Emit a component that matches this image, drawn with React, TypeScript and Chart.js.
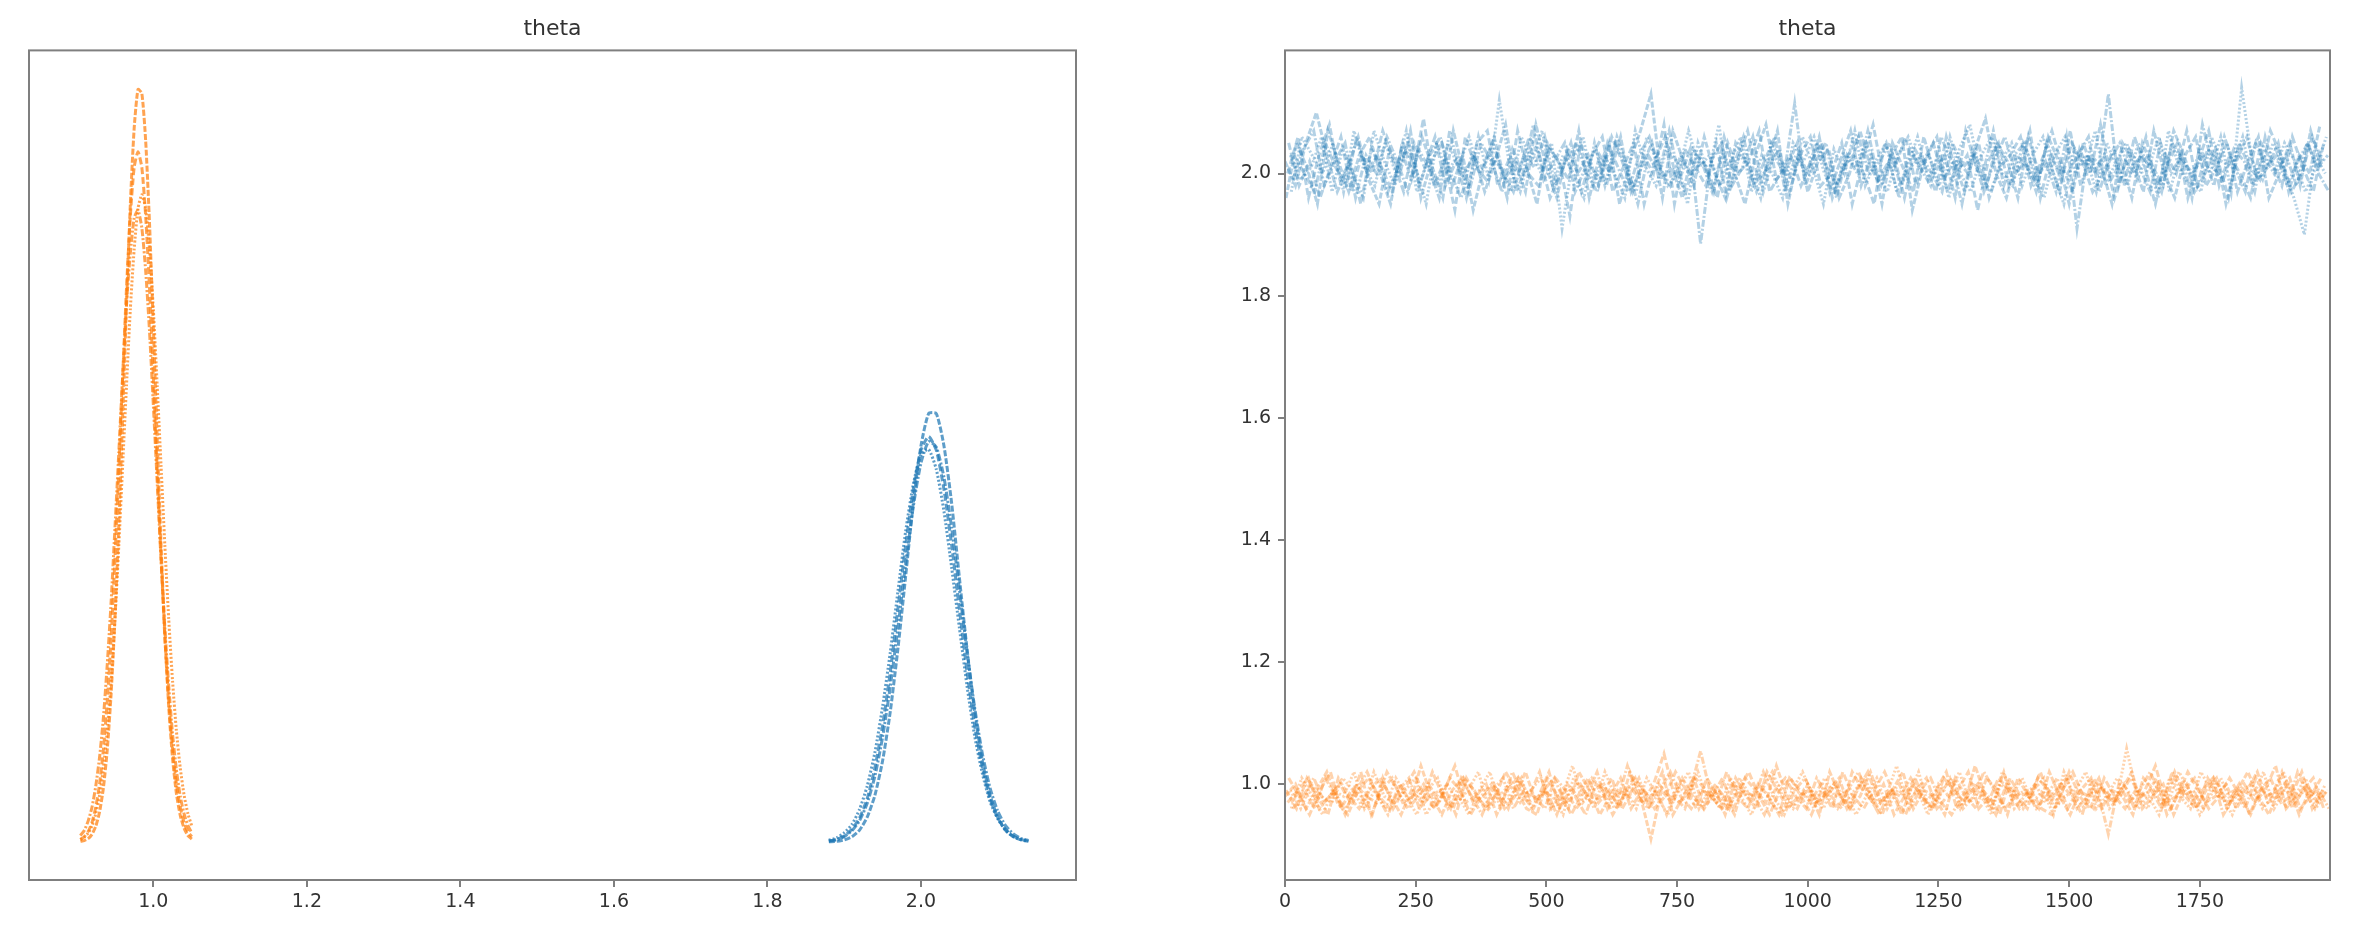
import React, { useEffect, useRef } from "react";
import { Chart, registerables } from "chart.js";

Chart.register(...registerables);

const PANEL_TITLE = "theta";
const BLUE = "31,119,180";
const ORANGE = "255,127,14";

// Left panel (KDE) ticks and ranges
const kdeXTicks = [1.0, 1.2, 1.4, 1.6, 1.8, 2.0];
const kdeXRange = [0.838, 2.202];
const kdeYRange = [-0.97, 20.3];

// Right panel (trace) ticks and ranges
const traceXTicks = [0, 250, 500, 750, 1000, 1250, 1500, 1750];
const traceYTicks = [1.0, 1.2, 1.4, 1.6, 1.8, 2.0];
const traceXRange = [0, 1999];
const traceYRange = [0.843, 2.2016];

// KDE grids
const orangeGrid = [0.905, 0.91, 0.915, 0.92, 0.925, 0.93, 0.935, 0.94, 0.945, 0.95, 0.955, 0.96, 0.965, 0.97, 0.975, 0.98, 0.985, 0.99, 0.995, 1.0, 1.005, 1.01, 1.015, 1.02, 1.025, 1.03, 1.035, 1.04, 1.045, 1.05];
const blueGrid = [1.88, 1.89, 1.9, 1.91, 1.92, 1.93, 1.94, 1.95, 1.96, 1.97, 1.98, 1.99, 2.0, 2.01, 2.02, 2.03, 2.04, 2.05, 2.06, 2.07, 2.08, 2.09, 2.1, 2.11, 2.12, 2.13, 2.14];

// KDE densities per chain
const orangeKde1 = [0.02, 0.04, 0.09, 0.2, 0.41, 0.78, 1.4, 2.38, 3.81, 5.74, 8.15, 10.9, 13.75, 16.35, 18.3, 19.3, 19.2, 17.98, 15.87, 13.2, 10.34, 7.63, 5.3, 3.48, 2.15, 1.25, 0.69, 0.36, 0.17, 0.08];
const orangeKde2 = [0.07, 0.14, 0.27, 0.5, 0.9, 1.5, 2.4, 3.63, 5.24, 7.3, 9.56, 11.9, 14.2, 16.05, 17.3, 17.7, 17.3, 16.05, 14.2, 11.9, 9.56, 7.3, 5.24, 3.63, 2.4, 1.5, 0.9, 0.5, 0.27, 0.14];
const orangeKde3 = [0.065, 0.13, 0.23, 0.42, 0.73, 1.21, 1.91, 2.86, 4.14, 5.73, 7.6, 9.66, 11.7, 13.66, 15.2, 16.25, 16.6, 16.25, 15.2, 13.66, 11.7, 9.66, 7.6, 5.73, 4.14, 2.86, 1.91, 1.21, 0.73, 0.42];
const orangeKde4 = [0.17, 0.3, 0.54, 0.89, 1.44, 2.19, 3.21, 4.57, 6.17, 8.07, 10.0, 11.95, 13.8, 15.1, 16.0, 16.2, 15.75, 14.65, 13.1, 11.2, 9.23, 7.24, 5.49, 4.02, 2.77, 1.86, 1.18, 0.73, 0.43, 0.24];

const blueKde1 = [0.01, 0.02, 0.06, 0.14, 0.31, 0.64, 1.2, 2.08, 3.34, 4.96, 6.8, 8.69, 10.16, 10.99, 10.99, 10.16, 8.69, 6.8, 4.96, 3.34, 2.08, 1.2, 0.64, 0.31, 0.14, 0.06, 0.02];
const blueKde2 = [0.03, 0.07, 0.16, 0.33, 0.62, 1.12, 1.91, 2.98, 4.36, 5.99, 7.61, 9.04, 10.05, 10.4, 10.05, 9.04, 7.61, 5.99, 4.36, 2.98, 1.91, 1.12, 0.62, 0.33, 0.16, 0.07, 0.03];
const blueKde3 = [0.05, 0.11, 0.24, 0.45, 0.84, 1.44, 2.3, 3.47, 4.86, 6.43, 7.96, 9.17, 9.94, 10.07, 9.56, 8.48, 7.04, 5.51, 4.01, 2.72, 1.76, 1.04, 0.6, 0.31, 0.15, 0.07, 0.03];
const blueKde4 = [0.03, 0.06, 0.14, 0.29, 0.55, 1.0, 1.69, 2.69, 3.98, 5.5, 7.12, 8.6, 9.72, 10.27, 10.13, 9.35, 8.06, 6.5, 4.89, 3.45, 2.27, 1.39, 0.8, 0.43, 0.22, 0.1, 0.04];

// Trace: draw index = i * drawStep + sample offset
const drawStep = 20;
const chainOffsets = [0, 5, 10, 15];
const extraOffsets = [2, 7, 12, 17];

const blueTrace1 = [
  2.02, 1.98, 2.05, 2.10, 2.03, 1.97, 2.01, 2.06, 1.99, 1.95,
  2.04, 2.00, 2.07, 1.96, 2.02, 2.05, 1.98, 2.03, 1.94, 2.01,
  2.06, 1.99, 2.02, 1.97, 2.08, 2.01, 1.96, 2.04, 2.00, 2.03,
  1.98, 2.05, 1.95, 2.02, 2.07, 2.13, 1.99, 2.01, 1.96, 2.04,
  2.02, 1.97, 2.06, 2.00, 1.95, 2.03, 2.08, 1.99, 2.01, 2.05,
  1.97, 2.02, 2.04, 1.96, 2.00, 2.07, 2.01, 1.98, 2.03, 2.06,
  1.94, 2.01, 2.05, 1.99, 2.02, 1.97, 2.04, 2.09, 2.00, 1.96,
  2.03, 2.01, 1.98, 2.06, 2.02, 1.95, 2.04, 2.00, 2.08, 1.99,
  2.02, 1.96, 2.05, 2.01, 1.98, 2.07, 2.03, 1.97, 2.00, 2.04,
  1.95, 2.02, 2.06, 1.99, 2.01, 2.05, 1.97, 2.03, 2.00, 2.08,
];
const blueTrace2 = [
  2.00, 2.06, 1.96, 2.03, 2.08, 1.99, 2.02, 1.95, 2.04, 2.01,
  1.97, 2.05, 2.00, 2.09, 1.98, 2.02, 1.94, 2.06, 2.01, 1.99,
  2.03, 1.96, 2.07, 2.00, 1.98, 2.04, 2.02, 1.93, 2.05, 2.01,
  1.99, 2.06, 2.02, 1.97, 2.03, 2.00, 2.08, 1.95, 2.04, 2.01,
  1.98, 2.05, 1.96, 2.02, 2.07, 1.99, 2.01, 2.04, 1.97, 2.03,
  2.06, 1.98, 2.00, 2.05, 1.95, 2.02, 2.08, 1.99, 2.03, 1.96,
  2.04, 2.01, 1.97, 2.06, 2.00, 2.03, 1.94, 2.02, 2.05, 1.98,
  2.01, 2.07, 1.96, 2.03, 1.99, 2.05, 2.02, 1.97, 2.00, 2.04,
  1.98, 2.06, 2.01, 1.95, 2.03, 2.00, 2.07, 1.98, 2.04, 2.02,
  1.96, 2.05, 2.01, 1.99, 2.07, 2.03, 1.97, 2.00, 2.06, 2.02,
];
const blueTrace3 = [
  2.03, 1.99, 2.01, 2.06, 1.97, 2.04, 2.00, 1.96, 2.07, 2.02,
  1.98, 2.04, 2.01, 1.95, 2.05, 2.00, 2.03, 1.97, 2.06, 1.99,
  2.12, 2.01, 1.97, 2.04, 2.00, 2.05, 1.91, 2.02, 2.06, 1.98,
  2.03, 2.00, 1.96, 2.07, 2.01, 1.98, 2.04, 2.02, 1.95, 2.05,
  2.00, 2.08, 1.97, 2.03, 2.01, 1.96, 2.05, 2.02, 1.99, 2.06,
  2.01, 1.95, 2.04, 2.00, 2.07, 1.98, 2.02, 2.05, 1.97, 2.01,
  2.06, 1.99, 2.03, 1.96, 2.04, 2.08, 2.00, 1.97, 2.02, 2.05,
  1.98, 2.03, 2.06, 2.00, 1.95, 2.04, 2.01, 2.07, 1.98, 2.02,
  2.05, 1.99, 2.03, 1.96, 2.07, 2.01, 1.98, 2.04, 2.00, 2.06,
  1.97, 2.14, 2.02, 1.99, 2.05, 2.01, 1.96, 1.90, 2.03, 2.00,
];
const blueTrace4 = [
  1.99, 2.04, 2.07, 1.98, 2.02, 2.05, 1.96, 2.03, 2.00, 2.06,
  2.02, 1.97, 2.04, 2.01, 1.96, 2.07, 2.00, 1.98, 2.05, 2.02,
  1.97, 2.04, 2.00, 2.08, 1.99, 2.02, 2.05, 1.97, 2.01, 2.04,
  1.98, 2.06, 2.01, 1.95, 2.03, 2.00, 2.07, 1.99, 2.04, 1.885,
  2.02, 2.05, 1.98, 2.01, 2.06, 1.97, 2.03, 2.00, 2.115, 1.98,
  2.02, 2.05, 1.96, 2.03, 2.00, 2.07, 1.99, 2.02, 1.96, 2.04,
  2.01, 1.98, 2.06, 2.02, 1.95, 2.04, 2.00, 2.07, 1.98, 2.03,
  2.05, 1.99, 2.02, 1.97, 2.06, 1.91, 2.03, 2.00, 2.13, 1.98,
  2.04, 2.01, 1.97, 2.05, 2.00, 2.03, 1.96, 2.08, 2.01, 1.99,
  2.04, 2.02, 1.97, 2.06, 2.00, 2.03, 1.98, 2.05, 2.01, 2.03,
];
// further draws of the same four chains (sampled between the ones above)
const blueTrace1b = [
  1.96, 2.05, 2.01, 1.95, 2.07, 2.02, 1.97, 2.03, 2.06, 2.00,
  1.95, 2.04, 1.99, 2.06, 2.01, 1.96, 2.07, 2.00, 2.03, 1.97,
  2.02, 2.08, 1.97, 2.01, 1.95, 2.05, 2.02, 1.99, 2.07, 1.96,
  2.03, 2.00, 2.06, 1.97, 2.01, 2.05, 1.96, 2.07, 2.02, 1.98,
  2.06, 2.00, 1.96, 2.05, 2.02, 1.97, 2.01, 2.07, 1.95, 2.03,
  2.00, 2.06, 1.97, 2.02, 2.07, 1.98, 2.03, 1.95, 2.05, 2.01,
  1.97, 2.06, 2.00, 2.03, 1.96, 2.07, 2.01, 1.98, 2.05, 2.02,
  1.96, 2.06, 2.00, 2.02, 1.97, 2.07, 1.98, 2.03, 2.01, 1.95,
  2.05, 2.02, 1.97, 2.07, 2.00, 1.96, 2.03, 2.06, 1.98, 2.01,
  2.05, 1.97, 2.02, 2.06, 1.96, 2.00, 2.05, 1.98, 2.07, 2.01,
];
const blueTrace2b = [
  2.05, 1.98, 2.02, 1.96, 2.01, 2.06, 1.97, 2.03, 2.00, 2.07,
  2.02, 1.97, 2.05, 2.01, 2.06, 1.98, 2.02, 1.96, 2.05, 2.07,
  1.98, 2.02, 2.00, 2.06, 2.03, 1.96, 2.00, 2.05, 1.97, 2.03,
  2.06, 1.97, 2.01, 2.05, 1.95, 2.02, 2.06, 2.00, 1.97, 2.03,
  2.01, 1.96, 2.05, 2.00, 2.02, 2.07, 1.97, 2.00, 2.03, 1.98,
  2.02, 2.05, 1.96, 2.01, 2.03, 2.00, 1.95, 2.05, 2.01, 2.06,
  1.98, 2.03, 2.06, 1.97, 2.02, 2.00, 2.05, 1.96, 2.01, 2.03,
  2.06, 1.98, 2.02, 2.07, 2.01, 1.97, 2.05, 2.00, 2.03, 1.96,
  2.02, 2.00, 2.06, 1.98, 2.01, 2.05, 1.96, 2.02, 2.07, 1.98,
  2.03, 2.00, 1.96, 2.05, 2.02, 1.98, 2.06, 2.01, 1.97, 2.05,
];
const blueTrace3b = [
  1.97, 2.06, 2.03, 2.00, 2.05, 1.97, 2.07, 2.01, 1.98, 2.05,
  2.00, 2.07, 1.97, 2.02, 1.98, 2.05, 2.01, 2.06, 2.00, 2.03,
  2.01, 1.97, 2.06, 2.02, 2.07, 1.98, 2.03, 2.00, 1.96, 2.05,
  1.98, 2.05, 2.01, 1.97, 2.06, 2.02, 1.98, 2.00, 2.07, 2.01,
  2.03, 1.98, 2.02, 2.06, 1.97, 2.03, 2.00, 1.96, 2.05, 2.02,
  2.06, 2.00, 1.97, 2.03, 2.01, 2.05, 2.00, 1.97, 2.03, 2.06,
  2.01, 2.03, 1.98, 2.06, 2.00, 1.97, 2.03, 2.06, 2.00, 1.98,
  2.05, 2.01, 1.96, 2.03, 2.06, 2.00, 2.03, 1.97, 2.05, 2.01,
  1.98, 2.05, 2.01, 2.06, 1.97, 2.03, 2.00, 1.97, 2.06, 2.02,
  2.01, 2.06, 1.98, 2.03, 2.00, 2.05, 2.02, 1.97, 2.01, 2.06,
];
const blueTrace4b = [
  2.03, 2.00, 1.97, 2.05, 2.01, 1.98, 2.06, 2.00, 2.03, 1.97,
  2.01, 2.05, 1.98, 2.03, 2.06, 2.00, 1.96, 2.03, 2.01, 2.05,
  2.00, 1.97, 2.03, 2.01, 2.06, 1.98, 2.02, 2.05, 2.00, 1.97,
  2.05, 2.01, 1.97, 2.03, 2.06, 2.01, 1.98, 2.03, 2.00, 2.02,
  1.97, 2.03, 2.01, 2.06, 1.98, 2.02, 2.06, 1.97, 2.03, 2.00,
  2.05, 2.01, 1.98, 2.03, 2.06, 2.00, 2.02, 2.05, 1.98, 2.01,
  2.03, 2.00, 1.97, 2.05, 2.01, 2.03, 1.97, 2.02, 2.06, 2.00,
  2.02, 1.97, 2.05, 2.01, 2.00, 2.03, 2.06, 1.97, 2.02, 2.05,
  2.00, 2.03, 2.01, 1.97, 2.05, 2.02, 2.00, 2.03, 1.98, 2.06,
  2.01, 1.97, 2.05, 2.01, 2.03, 1.98, 2.02, 2.05, 2.00, 1.97,
];

const orangeTrace1 = [
  0.98, 1.00, 0.96, 0.99, 1.02, 0.97, 0.95, 0.99, 1.01, 0.98,
  0.96, 1.00, 0.97, 1.03, 0.98, 0.95, 0.99, 1.01, 0.97, 0.98,
  1.00, 0.96, 0.98, 1.02, 0.97, 0.99, 0.95, 1.00, 0.98, 1.01,
  0.97, 0.99, 0.96, 1.02, 0.98, 0.91, 0.99, 0.97, 1.01, 0.98,
  0.96, 1.00, 0.98, 0.95, 1.01, 0.99, 0.97, 1.03, 0.98, 0.96,
  1.00, 0.97, 0.99, 1.01, 0.96, 0.98, 1.02, 0.97, 0.99, 0.95,
  1.00, 0.98, 0.96, 1.01, 0.99, 0.97, 1.03, 0.98, 0.95, 1.00,
  0.98, 0.96, 1.01, 0.99, 0.97, 1.02, 0.98, 0.96, 1.00, 0.97,
  0.99, 1.02, 0.96, 0.98, 1.00, 0.95, 0.99, 1.01, 0.97, 0.98,
  1.00, 0.96, 0.99, 1.02, 0.97, 0.98, 1.00, 0.95, 0.99, 0.98,
];
const orangeTrace2 = [
  0.97, 0.99, 1.01, 0.96, 0.98, 1.00, 0.97, 1.02, 0.95, 0.99,
  1.01, 0.97, 0.98, 1.00, 0.96, 0.99, 1.03, 0.97, 0.98, 1.00,
  0.95, 0.99, 1.01, 0.97, 0.98, 1.02, 0.96, 0.99, 1.00, 0.97,
  0.98, 1.01, 0.96, 0.99, 0.97, 1.00, 1.05, 0.98, 0.96, 1.01,
  0.99, 0.97, 1.02, 0.98, 0.96, 1.00, 0.98, 0.95, 1.01, 0.99,
  0.97, 1.00, 0.98, 0.96, 1.02, 0.99, 0.97, 1.00, 0.95, 0.98,
  1.01, 0.97, 0.99, 1.02, 0.96, 0.98, 1.00, 0.97, 1.01, 0.99,
  0.96, 0.98, 1.02, 0.97, 1.00, 0.98, 0.95, 1.01, 0.99, 0.97,
  1.00, 0.96, 0.99, 1.03, 0.97, 0.98, 1.00, 0.96, 1.01, 0.98,
  0.97, 1.00, 0.95, 0.99, 1.01, 0.97, 0.98, 1.02, 0.96, 0.99,
];
const orangeTrace3 = [
  0.99, 0.96, 1.00, 0.98, 0.97, 1.01, 0.99, 0.96, 1.02, 0.98,
  0.97, 0.99, 1.01, 0.95, 0.98, 1.00, 0.97, 0.99, 1.02, 0.96,
  0.98, 1.00, 0.97, 0.99, 1.01, 0.96, 0.98, 1.03, 0.97, 0.99,
  1.00, 0.96, 0.98, 1.01, 0.97, 0.99, 0.95, 1.00, 0.98, 1.02,
  0.97, 0.99, 0.96, 1.01, 0.98, 1.00, 0.97, 0.95, 0.99, 1.02,
  0.98, 0.96, 1.00, 0.97, 0.99, 1.01, 0.96, 0.98, 1.03, 0.97,
  0.99, 0.95, 1.00, 0.98, 1.02, 0.97, 0.99, 0.96, 1.00, 0.98,
  1.01, 0.97, 0.99, 0.95, 1.02, 0.98, 0.96, 1.00, 0.99, 0.97,
  1.058, 0.98, 0.96, 1.00, 0.97, 1.02, 0.99, 0.95, 0.98, 1.01,
  0.97, 0.99, 1.00, 0.96, 0.98, 1.02, 0.97, 0.99, 0.96, 1.00,
];
const orangeTrace4 = [
  0.96, 0.98, 1.01, 0.97, 0.99, 0.95, 1.00, 0.98, 0.97, 1.02,
  0.99, 0.96, 0.98, 1.00, 0.97, 1.01, 0.99, 0.95, 0.98, 1.00,
  0.97, 1.02, 0.98, 0.96, 0.99, 1.01, 0.97, 0.98, 0.95, 1.00,
  0.99, 0.97, 1.03, 0.98, 0.96, 1.00, 0.98, 0.97, 0.99, 1.054,
  0.98, 0.96, 1.00, 0.99, 0.97, 1.02, 0.98, 0.95, 0.99, 1.01,
  0.97, 0.98, 1.00, 0.96, 0.99, 1.02, 0.97, 0.98, 1.00, 0.96,
  0.99, 1.01, 0.97, 0.95, 0.98, 1.00, 0.99, 0.97, 1.02, 0.96,
  0.98, 1.00, 0.97, 0.99, 1.01, 0.96, 0.98, 0.99, 0.918, 1.00,
  0.97, 0.99, 1.02, 0.98, 0.96, 1.00, 0.97, 0.99, 1.01, 0.95,
  0.98, 1.00, 0.97, 0.99, 1.03, 0.96, 0.98, 1.00, 0.97, 0.99,
];
const orangeTrace1b = [
  0.99, 0.96, 1.01, 0.98, 0.95, 1.01, 0.98, 0.96, 0.99, 1.01,
  0.98, 0.95, 0.99, 0.97, 1.02, 0.98, 0.96, 1.01, 0.99, 0.96,
  0.98, 1.02, 0.99, 0.96, 0.95, 1.01, 0.98, 0.96, 1.02, 0.99,
  0.95, 0.98, 1.01, 0.96, 0.99, 0.98, 1.02, 0.95, 0.98, 1.01,
  0.96, 0.99, 0.95, 1.01, 0.98, 0.96, 1.02, 0.99, 0.96, 0.98,
  0.99, 0.95, 1.02, 0.98, 0.96, 1.01, 0.98, 0.95, 0.99, 1.02,
  0.96, 0.99, 0.98, 0.95, 1.01, 0.98, 0.96, 1.01, 0.99, 0.95,
  1.01, 0.98, 0.96, 1.02, 0.98, 0.95, 0.99, 1.01, 0.96, 0.99,
  0.98, 0.95, 1.01, 0.99, 0.96, 1.02, 0.98, 0.96, 0.99, 1.01,
  0.96, 0.99, 1.02, 0.98, 0.95, 0.99, 1.01, 0.96, 0.98, 1.01,
];
const orangeTrace2b = [
  1.01, 0.98, 0.95, 0.99, 1.02, 0.96, 0.99, 0.98, 0.95, 1.01,
  0.96, 0.99, 1.02, 0.98, 0.96, 0.99, 0.95, 1.01, 0.98, 0.96,
  0.99, 0.96, 1.01, 0.98, 1.02, 0.96, 0.99, 0.95, 0.98, 1.01,
  0.99, 0.95, 0.98, 1.01, 0.99, 0.96, 0.98, 1.02, 0.99, 0.96,
  1.01, 0.98, 0.96, 0.99, 1.02, 0.98, 0.95, 0.99, 1.01, 0.98,
  0.95, 0.99, 0.96, 1.02, 0.98, 0.96, 0.99, 1.02, 0.98, 0.95,
  0.99, 1.01, 0.96, 0.98, 0.99, 1.02, 0.96, 0.98, 0.95, 1.01,
  0.98, 0.99, 0.96, 0.95, 0.99, 1.02, 0.98, 0.96, 1.01, 0.98,
  0.96, 0.99, 0.98, 1.01, 0.95, 0.98, 1.02, 0.99, 0.96, 0.98,
  1.01, 0.98, 0.95, 0.99, 0.98, 1.02, 0.96, 0.99, 1.01, 0.96,
];
const orangeTrace3b = [
  0.96, 1.01, 0.98, 0.95, 0.99, 0.98, 1.02, 0.96, 0.99, 0.96,
  1.01, 0.98, 0.95, 0.99, 1.01, 0.96, 0.98, 0.95, 0.99, 1.02,
  0.96, 0.98, 1.01, 0.96, 0.99, 0.98, 0.95, 1.01, 0.99, 0.96,
  1.02, 0.98, 0.99, 0.96, 1.01, 0.98, 0.95, 0.99, 1.02, 0.96,
  0.99, 0.96, 1.01, 0.98, 0.95, 0.99, 1.02, 0.98, 0.96, 0.99,
  0.96, 1.01, 0.98, 0.99, 0.95, 0.98, 1.01, 0.96, 0.99, 0.98,
  1.02, 0.96, 0.98, 1.01, 0.96, 0.99, 0.98, 0.95, 1.02, 0.99,
  0.96, 0.99, 1.01, 0.96, 0.98, 0.99, 1.02, 0.96, 0.98, 1.01,
  0.99, 0.96, 0.98, 0.95, 1.01, 0.98, 0.96, 1.02, 0.99, 0.98,
  0.95, 0.99, 0.98, 1.02, 0.96, 0.99, 0.98, 1.01, 0.96, 0.99,
];
const orangeTrace4b = [
  0.98, 0.99, 0.96, 1.01, 0.98, 0.96, 0.99, 1.02, 0.98, 0.95,
  0.99, 1.01, 0.96, 0.98, 0.99, 0.96, 1.01, 0.98, 0.95, 0.99,
  1.01, 0.96, 0.99, 0.98, 0.96, 1.01, 0.99, 0.96, 0.98, 1.02,
  0.96, 0.99, 0.98, 1.01, 0.96, 0.99, 1.02, 0.98, 0.96, 0.99,
  0.98, 1.01, 0.96, 0.99, 0.98, 0.95, 0.99, 1.01, 0.98, 0.96,
  1.01, 0.98, 0.96, 0.99, 1.02, 0.98, 0.95, 0.99, 0.98, 1.01,
  0.98, 0.96, 0.99, 1.01, 0.96, 0.98, 1.02, 0.99, 0.96, 0.98,
  0.99, 0.96, 0.98, 1.01, 0.96, 0.99, 0.98, 1.01, 0.96, 0.98,
  1.01, 0.98, 0.99, 0.96, 1.02, 0.98, 0.99, 0.96, 1.01, 0.98,
  0.99, 0.96, 1.01, 0.98, 0.99, 0.96, 1.02, 0.98, 0.99, 0.96,
];

const chainDashes = [[6, 2], [7, 3], [2, 2], [7, 2, 2, 2]];

const FONT = "'DejaVu Sans', 'Liberation Sans', sans-serif";
const SPINE = "#7f7f7f";
const TEXT = "#333333";

const framePlugin = {
  id: "frame",
  afterDatasetsDraw(chart: any) {
    const { ctx, chartArea } = chart;
    const { left, top, right, bottom } = chartArea;
    ctx.save();
    ctx.strokeStyle = SPINE;
    ctx.lineWidth = 2;
    ctx.strokeRect(left, top, right - left, bottom - top);
    ctx.restore();
  },
};

const titleOpts = {
  display: true,
  text: PANEL_TITLE,
  fullSize: false,
  color: TEXT,
  font: { family: FONT, size: 22, weight: "normal" as const, lineHeight: 1.2 },
  padding: { top: 16, bottom: 8 },
};

function tickAxis(ticks: number[], range: number[], fmt: (v: number) => string, size: any) {
  return {
    type: "linear" as const,
    min: range[0],
    max: range[1],
    afterBuildTicks: (s: any) => {
      s.ticks = ticks.map((v) => ({ value: v }));
    },
    grid: { display: true, drawOnChartArea: false, drawTicks: true, tickLength: 7, color: SPINE, lineWidth: 2 },
    border: { display: false },
    ticks: {
      color: TEXT,
      font: { family: FONT, size: 19 },
      autoSkip: false,
      maxRotation: 0,
      padding: size.padding,
      callback: (v: any) => fmt(Number(v)),
    },
    afterFit: (s: any) => {
      if (size.height) s.height = size.height;
      if (size.width) s.width = size.width;
    },
  };
}

function kdeDataset(grid: number[], vals: number[], rgb: string, chain: number) {
  return {
    data: grid.map((x, i) => ({ x, y: vals[i] })),
    borderColor: `rgba(${rgb},0.72)`,
    borderWidth: 3,
    borderDash: chainDashes[chain],
    pointRadius: 0,
    fill: false,
    tension: 0.2,
  };
}

function traceDataset(vals: number[], rgb: string, chain: number, offsets: number[]) {
  return {
    data: vals.map((y, i) => ({ x: i * drawStep + offsets[chain], y })),
    borderColor: `rgba(${rgb},0.34)`,
    borderWidth: 3,
    borderDash: chainDashes[chain],
    pointRadius: 0,
    fill: false,
    tension: 0,
  };
}

export default function App() {
  const leftRef = useRef<HTMLCanvasElement>(null);
  const rightRef = useRef<HTMLCanvasElement>(null);

  useEffect(() => {
    const orangeKdes = [orangeKde1, orangeKde2, orangeKde3, orangeKde4];
    const blueKdes = [blueKde1, blueKde2, blueKde3, blueKde4];
    const blueTraces = [blueTrace1, blueTrace2, blueTrace3, blueTrace4];
    const blueTracesB = [blueTrace1b, blueTrace2b, blueTrace3b, blueTrace4b];
    const orangeTraces = [orangeTrace1, orangeTrace2, orangeTrace3, orangeTrace4];
    const orangeTracesB = [orangeTrace1b, orangeTrace2b, orangeTrace3b, orangeTrace4b];

    const left = new Chart(leftRef.current!, {
      type: "line",
      data: {
        datasets: [
          ...blueKdes.map((v, c) => kdeDataset(blueGrid, v, BLUE, c)),
          ...orangeKdes.map((v, c) => kdeDataset(orangeGrid, v, ORANGE, c)),
        ],
      },
      options: {
        responsive: false,
        animation: false,
        layout: { padding: { left: 29, right: 2, top: 0, bottom: 0 } },
        plugins: { legend: { display: false }, tooltip: { enabled: false }, title: titleOpts },
        scales: {
          x: tickAxis(kdeXTicks, kdeXRange, (v) => v.toFixed(1), { height: 53, padding: 4 }),
          y: { type: "linear", display: false, min: kdeYRange[0], max: kdeYRange[1] },
        },
      },
      plugins: [framePlugin],
    } as any);

    const right = new Chart(rightRef.current!, {
      type: "line",
      data: {
        datasets: [
          ...blueTraces.map((v, c) => traceDataset(v, BLUE, c, chainOffsets)),
          ...blueTracesB.map((v, c) => traceDataset(v, BLUE, c, extraOffsets)),
          ...orangeTraces.map((v, c) => traceDataset(v, ORANGE, c, chainOffsets)),
          ...orangeTracesB.map((v, c) => traceDataset(v, ORANGE, c, extraOffsets)),
        ],
      },
      options: {
        responsive: false,
        animation: false,
        layout: { padding: { left: 0, right: 2, top: 0, bottom: 0 } },
        plugins: { legend: { display: false }, tooltip: { enabled: false }, title: titleOpts },
        scales: {
          x: tickAxis(traceXTicks, traceXRange, (v) => String(Math.round(v)), { height: 53, padding: 4 }),
          y: tickAxis(traceYTicks, traceYRange, (v) => v.toFixed(1), { width: 105, padding: 7 }),
        },
      },
      plugins: [framePlugin],
    } as any);

    return () => {
      left.destroy();
      right.destroy();
    };
  }, []);

  return (
    <div style={{ position: "absolute", left: 0, top: 0, width: 2353, height: 933, background: "#ffffff" }}>
      <canvas ref={leftRef} width={1078} height={933} style={{ position: "absolute", left: 0, top: 0 }} />
      <canvas ref={rightRef} width={1152} height={933} style={{ position: "absolute", left: 1180, top: 0 }} />
    </div>
  );
}
